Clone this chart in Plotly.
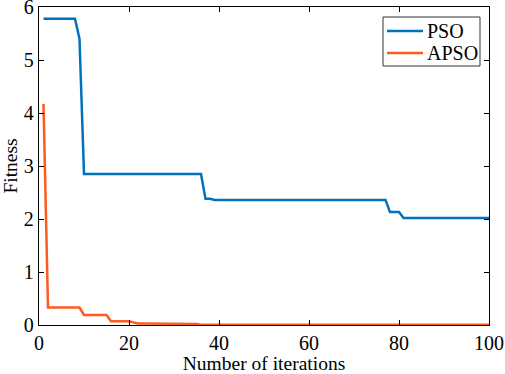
import plotly.graph_objects as go

iters = list(range(1, 101))
pso_break = [(1, 5.78), (8, 5.78), (9, 5.40), (10, 2.85), (36, 2.85), (37, 2.38), (38, 2.38),
             (39, 2.36), (77, 2.36), (78, 2.13), (80, 2.13), (81, 2.02), (100, 2.02)]
apso_break = [(1, 4.17), (2, 0.33), (9, 0.33), (10, 0.19), (15, 0.19), (16, 0.07), (20, 0.07),
              (21, 0.05), (22, 0.03), (30, 0.025), (35, 0.02), (36, 0.005), (100, 0.005)]
series_names = ["PSO", "APSO"]
series_colors = ["#0072BD", "#FF5A1F"]

def step_values(bp):
    vals = []
    for i in iters:
        v = None
        for (x0, y0), (x1, y1) in zip(bp[:-1], bp[1:]):
            if x0 <= i <= x1:
                v = y0 if y0 == y1 else (y0 if i == x0 else (y1 if i == x1 else y0 + (y1 - y0) * (i - x0) / (x1 - x0)))
                break
        vals.append(v)
    return vals

pso = step_values(pso_break)
apso = step_values(apso_break)

FONT = "Liberation Serif"
W, H = 505, 374
ML, MR, MT, MB = 39, 16, 7, 49
PW, PH = W - ML - MR, H - MT - MB

def px(xp):
    return (xp - ML) / PW

def py(yp):
    return (H - MB - yp) / PH

fig = go.Figure()
for name, vals, col in zip(series_names, [pso, apso], series_colors):
    fig.add_trace(go.Scatter(x=iters, y=vals, mode="lines", name=name,
                             line=dict(color=col, width=2.5), showlegend=False))

axis_common = dict(showline=True, linecolor="black", linewidth=1.3, mirror="ticks",
                   ticks="inside", ticklen=5, tickwidth=1.3, tickcolor="black",
                   showgrid=False, zeroline=False, automargin=False,
                   ticklabeloverflow="allow",
                   tickfont=dict(family=FONT, size=20, color="black"))
fig.update_xaxes(range=[0, 100], tickvals=[0, 20, 40, 60, 80, 100],
                 title=dict(text="Number of iterations", standoff=0,
                            font=dict(family=FONT, size=19.5, color="black")),
                 **axis_common)
fig.update_yaxes(range=[0, 6], tickvals=[0, 1, 2, 3, 4, 5, 6],
                 title=dict(text="Fitness", standoff=6,
                            font=dict(family=FONT, size=19.5, color="black")),
                 **axis_common)

# manual legend (MATLAB-style compact box)
shapes = [dict(type="rect", xref="paper", yref="paper", x0=px(383), x1=px(480),
               y0=py(66), y1=py(17), line=dict(color="#333333", width=1),
               fillcolor="white", layer="above")]
annotations = []
for i, (name, col) in enumerate(zip(series_names, series_colors)):
    yy = 31 + i * 22
    shapes.append(dict(type="line", xref="paper", yref="paper", x0=px(387), x1=px(423),
                       y0=py(yy), y1=py(yy), line=dict(color=col, width=2.5), layer="above"))
    annotations.append(dict(xref="paper", yref="paper", x=px(425), y=py(yy), text=name,
                            showarrow=False, xanchor="left", yanchor="middle",
                            font=dict(family=FONT, size=20, color="black")))

fig.update_layout(width=W, height=H, margin=dict(l=ML, r=MR, t=MT, b=MB),
                  plot_bgcolor="white", paper_bgcolor="white",
                  shapes=shapes, annotations=annotations, showlegend=False)
fig.write_html("out.html", config={"displayModeBar": False},
               post_script="document.body.style.margin='0px';")
